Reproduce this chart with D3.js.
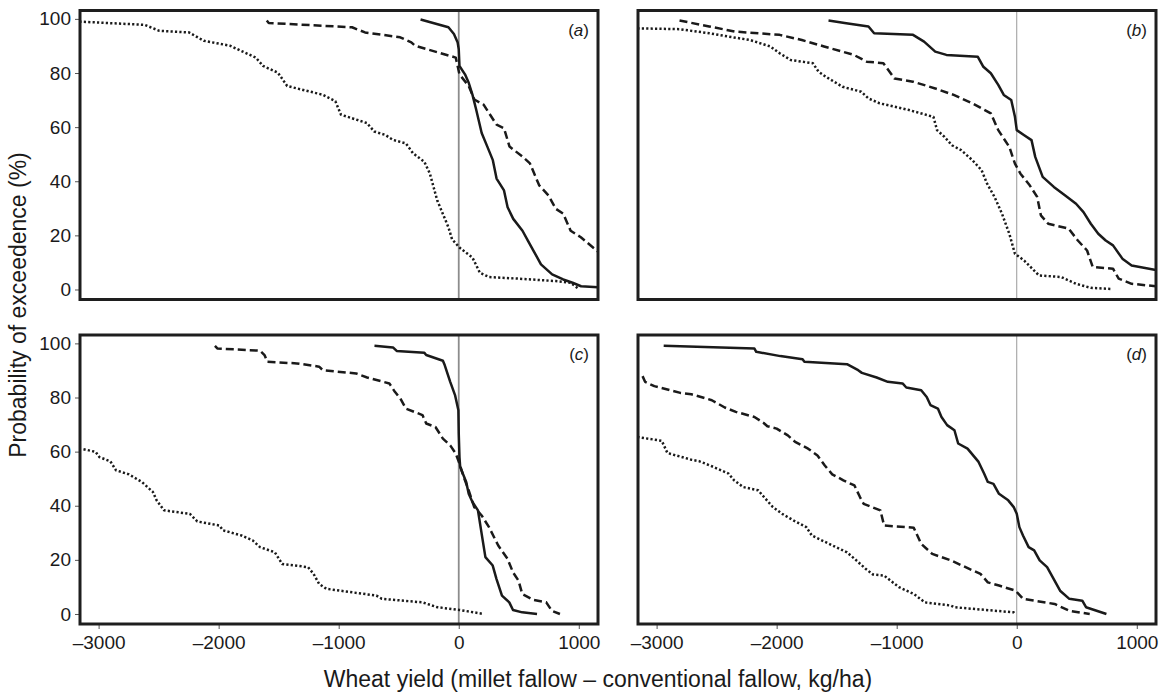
<!DOCTYPE html>
<html>
<head>
<meta charset="utf-8">
<script src="https://cdn.jsdelivr.net/npm/d3@7"></script>
<style>
  body { margin: 0; background: #fff; }
  svg { display: block; font-family: "Liberation Sans", Arial, Helvetica, sans-serif; }
</style>
</head>
<body>
<div id="chart"></div>
<script>
// Exceedance curves, [yield difference kg/ha, probability %]

const panelNames = ["a", "b", "c", "d"];

const solidA = [[-318,99.8],[-86,96.9],[-40,94.4],[-9,91.3],[0,88.8],[6,82.6],[52,79.5],[83,76.4],[114,72.0],[145,66.5],[191,57.8],[238,52.8],[284,47.8],[315,41.0],[377,36.6],[407,30.4],[454,26.1],[531,21.7],[577,18.0],[623,14.3],[685,9.3],[778,5.6],[870,3.7],[948,2.5],[1019,1.2],[1160,0.8]];
const dashedA = [[-1599,99.4],[-1583,98.5],[-889,96.9],[-781,95.0],[-488,93.2],[-395,91.3],[-364,90.1],[-25,85.7],[6,79.5],[83,75.2],[130,70.2],[207,68.3],[315,60.9],[377,59.6],[423,52.8],[531,49.1],[593,46.6],[670,38.5],[747,34.8],[809,29.8],[870,28.0],[932,21.7],[1017,19.3],[1160,14.0]];
const dottedA = [[-3160,99.0],[-2617,97.8],[-2494,95.6],[-2247,95.0],[-2123,91.9],[-1907,90.1],[-1691,85.7],[-1630,82.6],[-1506,80.1],[-1429,75.2],[-1136,72.0],[-1028,69.6],[-981,64.6],[-765,61.5],[-704,58.4],[-611,57.1],[-549,55.3],[-441,54.0],[-380,50.3],[-287,47.2],[-241,42.9],[-179,32.9],[-133,28.0],[-86,23.0],[-56,18.6],[6,15.5],[114,11.8],[176,6.2],[253,4.6],[500,4.0],[809,3.1],[932,2.5],[994,0.4]];

const solidB = [[-1568,99.4],[-1420,98.4],[-1235,97.2],[-1188,94.7],[-864,94.1],[-772,91.6],[-679,87.9],[-586,86.7],[-324,86.0],[-278,82.3],[-216,79.9],[-154,75.6],[-108,71.9],[-46,70.0],[-15,63.8],[0,58.9],[62,57.0],[123,55.2],[154,49.0],[216,41.6],[309,37.9],[401,34.8],[494,31.7],[556,28.6],[617,24.3],[679,20.6],[741,18.1],[802,16.3],[880,11.4],[957,8.9],[1160,7.2]];
const dashedB = [[-2809,99.4],[-2562,97.2],[-2346,95.3],[-1975,94.1],[-1790,92.2],[-1605,89.8],[-1358,86.7],[-1250,84.2],[-1111,83.6],[-1019,78.0],[-864,76.8],[-679,74.3],[-525,71.9],[-370,68.8],[-216,65.1],[-154,58.9],[-62,52.7],[-15,46.5],[31,42.8],[108,38.5],[170,34.2],[201,27.4],[262,24.3],[432,22.5],[509,18.1],[586,14.4],[633,8.3],[802,7.7],[849,4.0],[957,2.1],[1160,1.2]];
const dottedB = [[-3160,96.5],[-2809,96.2],[-2562,94.7],[-2407,93.5],[-2222,92.2],[-2052,89.8],[-1975,87.3],[-1883,84.8],[-1698,83.6],[-1651,80.5],[-1590,78.6],[-1451,74.9],[-1296,73.1],[-1235,70.6],[-1142,68.8],[-895,66.3],[-694,63.8],[-664,58.9],[-602,56.4],[-540,53.3],[-463,51.5],[-370,47.8],[-293,44.1],[-247,39.1],[-185,34.2],[-123,28.0],[-62,20.6],[-15,13.2],[62,10.7],[185,5.2],[370,4.6],[494,2.1],[617,0.6],[787,0.2]];

const solidC = [[-702,99.1],[-548,98.5],[-517,97.2],[-286,96.5],[-271,95.7],[-132,93.6],[-117,92.0],[-71,85.8],[-31,80.9],[-3,75.3],[0,66.7],[6,58.0],[12,54.3],[62,48.8],[83,44.4],[114,41.4],[160,38.3],[191,29.6],[222,21.0],[283,17.9],[314,13.0],[360,6.8],[421,4.3],[452,1.5],[529,0.6],[652,0]];
const dashedC = [[-2031,99.1],[-2009,98.1],[-1655,97.3],[-1618,95.7],[-1594,93.2],[-1348,92.6],[-1163,91.4],[-1132,90.1],[-855,88.9],[-763,87.4],[-578,85.2],[-532,82.1],[-486,79.6],[-440,75.9],[-302,73.5],[-271,70.4],[-194,69.1],[-132,64.8],[-71,62.3],[-25,59.3],[6,55.6],[37,51.2],[83,45.7],[129,39.5],[191,36.4],[252,32.1],[329,25.3],[406,20.4],[452,15.4],[498,12.3],[529,7.4],[622,5.2],[729,4.3],[775,1.2],[843,0]];
const dottedC = [[-3126,60.9],[-3025,59.9],[-2994,58.0],[-2902,56.4],[-2855,53.1],[-2748,51.6],[-2640,48.8],[-2548,45.1],[-2517,42.0],[-2455,38.3],[-2240,37.0],[-2178,34.2],[-1994,32.7],[-1963,30.9],[-1809,29.0],[-1717,27.2],[-1655,24.7],[-1532,22.8],[-1471,18.5],[-1255,17.3],[-1209,14.8],[-1163,11.1],[-1102,9.3],[-686,6.8],[-640,5.6],[-302,4.3],[-178,2.5],[6,1.5],[206,0]];

const solidD = [[-2941,99.1],[-2185,98.1],[-2170,96.9],[-1969,95.3],[-1784,94.1],[-1769,93.2],[-1414,92.3],[-1321,90.1],[-1290,89.1],[-1167,87.4],[-1074,85.8],[-951,85.2],[-920,83.7],[-796,82.7],[-750,80.2],[-719,77.2],[-657,75.9],[-627,72.8],[-580,69.8],[-519,67.9],[-488,63.0],[-410,61.1],[-318,56.2],[-272,51.9],[-241,48.8],[-194,48.1],[-148,44.4],[-71,42.0],[-25,39.5],[0,37.0],[22,32.1],[52,29.0],[99,24.7],[145,23.5],[191,19.8],[253,17.3],[299,13.6],[361,8.6],[438,5.6],[546,4.9],[577,2.5],[747,0]];
const dashedD = [[-3117,87.9],[-3096,85.8],[-3019,84.2],[-2802,81.7],[-2710,81.2],[-2540,79.0],[-2432,76.3],[-2340,74.7],[-2185,72.8],[-2108,70.6],[-2077,69.4],[-2000,68.5],[-1907,66.0],[-1846,63.6],[-1738,61.1],[-1660,58.6],[-1599,54.9],[-1537,51.6],[-1444,49.4],[-1352,47.5],[-1306,43.2],[-1275,40.7],[-1136,38.3],[-1105,32.7],[-858,31.9],[-796,25.9],[-704,22.2],[-549,19.8],[-426,17.3],[-302,14.8],[-241,11.7],[-148,10.5],[-9,8.6],[52,5.6],[315,3.7],[438,1.2],[608,0]];
const dottedD = [[-3160,65.4],[-2957,64.0],[-2910,59.5],[-2710,57.0],[-2648,56.5],[-2556,54.9],[-2401,51.9],[-2355,49.4],[-2278,46.9],[-2154,45.7],[-2093,42.6],[-2031,39.5],[-1954,37.0],[-1861,34.6],[-1753,32.1],[-1707,29.0],[-1506,24.7],[-1414,22.8],[-1336,19.8],[-1259,16.7],[-1198,14.6],[-1105,14.2],[-981,9.9],[-858,7.4],[-765,4.3],[-549,3.1],[-519,2.5],[-25,0.6],[-9,0]];

const xTicks = [-3000, -2000, -1000, 0, 1000];
const yTicks = [0, 20, 40, 60, 80, 100];
const xTitle = "Wheat yield (millet fallow \u2013 conventional fallow, kg/ha)";
const yTitle = "Probability of exceedence (%)";

const seriesByPanel = {
  a: [dottedA, dashedA, solidA],
  b: [dottedB, dashedB, solidB],
  c: [dottedC, dashedC, solidC],
  d: [dottedD, dashedD, solidD]
};

const styles = [
  {dash: "2.2,2.2", width: 2.5},  // dotted
  {dash: "8,4", width: 2.5},      // dashed
  {dash: null, width: 2.5}        // solid
];

const W = 1162, H = 692;
const pw = 518, ph = 289;
const layout = {
  a: {x: 80, y: 10.5, left: true, bottom: false, zero: 1.8, zeroColor: "#8c8c8c"},
  b: {x: 638, y: 10.5, left: false, bottom: false, zero: 1, zeroColor: "#999"},
  c: {x: 80, y: 335, left: true, bottom: true, zero: 1.8, zeroColor: "#8c8c8c"},
  d: {x: 638, y: 335, left: false, bottom: true, zero: 1, zeroColor: "#999"}
};

const svg = d3.select("#chart").append("svg")
  .attr("width", W)
  .attr("height", H);

const x = d3.scaleLinear().domain([-3155, 1160]).range([0, pw]);
const y = d3.scaleLinear().domain([-3.7, 103.1]).range([ph, 0]);

const fmt = d => d < 0 ? "\u2013" + Math.abs(d) : String(d);

const line = d3.line()
  .x(d => x(d[0]))
  .y(d => y(d[1]));

panelNames.forEach(name => {
  const L = layout[name];
  const g = svg.append("g").attr("transform", `translate(${L.x},${L.y})`);

  g.append("clipPath").attr("id", "clip-" + name)
    .append("rect").attr("width", pw).attr("height", ph);

  // zero line
  g.append("line")
    .attr("x1", x(0)).attr("x2", x(0))
    .attr("y1", 0).attr("y2", ph)
    .attr("stroke", L.zeroColor)
    .attr("stroke-width", L.zero);

  const plot = g.append("g").attr("clip-path", `url(#clip-${name})`);
  seriesByPanel[name].forEach((s, i) => {
    plot.append("path")
      .attr("d", line(s))
      .attr("fill", "none")
      .attr("stroke", "#1a1a1a")
      .attr("stroke-width", styles[i].width)
      .attr("stroke-dasharray", styles[i].dash)
      .attr("stroke-linejoin", "round");
  });

  if (L.left) {
    const ya = g.append("g")
      .call(d3.axisLeft(y).tickValues(yTicks).tickSize(5).tickPadding(4))
      .style("font-size", "19px");
    ya.select(".domain").remove();
    ya.selectAll("line").attr("stroke", "#555");
    ya.selectAll("text").attr("fill", "#1a1a1a").attr("font-family", null);
  }
  if (L.bottom) {
    const xa = g.append("g")
      .attr("transform", `translate(0,${ph})`)
      .call(d3.axisBottom(x).tickValues(xTicks).tickFormat(fmt).tickSize(5).tickPadding(7))
      .style("font-size", "19px");
    xa.select(".domain").remove();
    xa.selectAll("line").attr("stroke", "#555");
    xa.selectAll("text").attr("fill", "#1a1a1a").attr("font-family", null);
  }

  // frame
  g.append("rect")
    .attr("width", pw).attr("height", ph)
    .attr("fill", "none")
    .attr("stroke", "#1e1e1e")
    .attr("stroke-width", 3);

  // panel label
  const lab = g.append("text")
    .attr("x", pw - 9).attr("y", 25)
    .attr("text-anchor", "end")
    .style("font-size", "17px")
    .attr("fill", "#1a1a1a");
  lab.append("tspan").text("(");
  lab.append("tspan").style("font-style", "italic").text(name);
  lab.append("tspan").text(")");
});

svg.append("text")
  .attr("x", 598).attr("y", 687)
  .attr("text-anchor", "middle")
  .style("font-size", "23px")
  .attr("fill", "#1a1a1a")
  .text(xTitle);

svg.append("text")
  .attr("transform", "translate(26,305) rotate(-90)")
  .attr("text-anchor", "middle")
  .style("font-size", "23px")
  .attr("fill", "#1a1a1a")
  .text(yTitle);
</script>
</body>
</html>
